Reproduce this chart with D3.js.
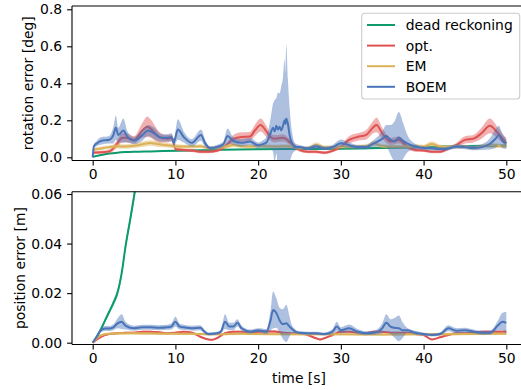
<!DOCTYPE html>
<html><head><meta charset="utf-8">
<script src="https://cdn.jsdelivr.net/npm/d3@7"></script>
<style>body{margin:0;background:#fff}svg{display:block}</style>
</head><body>
<svg id="chart" width="521" height="390"></svg>
<script>
// Method names and colours (legend order = drawing order)
const methods = ["dead reckoning", "opt.", "EM", "BOEM"];
const colors = ["#0d9a6c", "#e05251", "#dbb257", "#4a74b9"];

// Axis ticks
const xTicks = [0, 10, 20, 30, 40, 50];
const rotTicks = [0, 0.2, 0.4, 0.6, 0.8];
const posTicks = [0, 0.02, 0.04, 0.06];

// Rotation error [deg]: [time s, mean, spread]
const rotDead = [[0,0.003,0.001],[1,0.012,0.002],[2,0.02,0.002],[3,0.025,0.002],[4,0.028,0.002],[5,0.03,0.002],[7,0.032,0.002],[10,0.035,0.003],[15,0.04,0.003],[20,0.044,0.003],[25,0.045,0.004],[30,0.046,0.004],[35,0.05,0.005],[40,0.055,0.006],[45,0.06,0.007],[50,0.063,0.007]];
const rotOpt = [[0,0.025,0.008],[1,0.027,0.008],[2,0.032,0.01],[3,0.076,0.02],[3.5,0.104,0.025],[4,0.106,0.025],[5,0.094,0.02],[6,0.145,0.04],[6.6,0.165,0.055],[7,0.155,0.05],[8,0.11,0.03],[9,0.1,0.02],[9.6,0.105,0.02],[10,0.045,0.01],[11,0.04,0.008],[12,0.037,0.008],[13,0.03,0.008],[14,0.03,0.008],[15,0.035,0.008],[16,0.058,0.01],[17,0.1,0.02],[18,0.11,0.025],[19,0.112,0.025],[19.6,0.145,0.03],[20.3,0.175,0.035],[21,0.14,0.03],[21.5,0.11,0.02],[22,0.1,0.02],[23,0.105,0.02],[24,0.076,0.015],[25,0.04,0.01],[26,0.03,0.008],[27,0.03,0.008],[28,0.025,0.008],[29,0.035,0.008],[30,0.058,0.01],[31,0.094,0.02],[32,0.11,0.02],[33,0.12,0.025],[34,0.166,0.035],[34.3,0.175,0.04],[35,0.13,0.03],[36,0.085,0.02],[37,0.094,0.02],[38,0.058,0.012],[39,0.04,0.01],[40,0.037,0.008],[41,0.03,0.008],[42,0.03,0.008],[43,0.048,0.01],[44,0.067,0.012],[45,0.094,0.02],[46,0.1,0.02],[47,0.13,0.03],[48,0.17,0.04],[49,0.13,0.03],[50,0.076,0.02]];
const rotEm = [[0,0.04,0.008],[1,0.048,0.01],[2,0.055,0.01],[3,0.06,0.012],[4,0.058,0.012],[5,0.062,0.012],[6,0.07,0.015],[7,0.077,0.015],[8,0.07,0.015],[9,0.065,0.012],[10,0.06,0.012],[11,0.058,0.01],[12,0.058,0.01],[13,0.06,0.01],[14,0.05,0.01],[15,0.052,0.01],[16,0.056,0.01],[17,0.066,0.012],[18,0.06,0.01],[19,0.058,0.01],[20,0.062,0.012],[21,0.06,0.01],[22,0.058,0.01],[23,0.06,0.01],[24,0.058,0.01],[25,0.05,0.008],[26,0.05,0.008],[27,0.066,0.015],[28,0.054,0.01],[29,0.054,0.01],[30,0.058,0.01],[31,0.058,0.01],[32,0.058,0.01],[33,0.06,0.01],[34,0.075,0.015],[35,0.06,0.01],[36,0.058,0.01],[37,0.058,0.01],[38,0.058,0.01],[39,0.06,0.01],[40,0.058,0.01],[41,0.072,0.015],[42,0.058,0.01],[43,0.055,0.01],[44,0.058,0.01],[45,0.058,0.01],[46,0.05,0.01],[47,0.058,0.01],[48,0.065,0.012],[49,0.062,0.012],[50,0.058,0.01]];
const rotBoem = [[0,0,0],[0.15,0.06,0.01],[0.5,0.075,0.015],[1,0.088,0.02],[2,0.095,0.02],[2.5,0.12,0.045],[2.8,0.16,0.065],[3.1,0.12,0.04],[3.7,0.145,0.065],[4.2,0.11,0.03],[5,0.09,0.02],[6,0.12,0.03],[6.7,0.145,0.03],[7.5,0.128,0.03],[8.3,0.105,0.02],[9,0.105,0.02],[9.5,0.11,0.02],[9.8,0.08,0.02],[10.3,0.15,0.055],[11,0.11,0.03],[12,0.078,0.02],[13.1,0.12,0.03],[13.6,0.075,0.02],[14.2,0.05,0.01],[15,0.055,0.012],[15.8,0.07,0.015],[16.3,0.115,0.04],[17,0.088,0.02],[18,0.078,0.02],[19,0.085,0.02],[20,0.065,0.015],[20.5,0.07,0.02],[21,0.08,0.03],[21.5,0.13,0.08],[21.8,0.16,0.13],[22,0.14,0.17],[22.2,0.17,0.15],[22.4,0.15,0.2],[22.6,0.165,0.18],[22.8,0.145,0.24],[23,0.17,0.26],[23.2,0.2,0.33],[23.3,0.18,0.28],[23.4,0.21,0.4],[23.6,0.18,0.24],[23.8,0.12,0.15],[24.1,0.075,0.06],[24.5,0.055,0.02],[25,0.055,0.012],[26,0.048,0.01],[27,0.058,0.012],[28,0.048,0.01],[29,0.055,0.012],[30,0.076,0.02],[31,0.065,0.015],[32,0.055,0.012],[33,0.055,0.012],[34,0.075,0.02],[35,0.1,0.04],[35.5,0.115,0.06],[36,0.094,0.08],[36.5,0.085,0.11],[37,0.105,0.14],[37.5,0.09,0.1],[38,0.075,0.05],[39,0.058,0.015],[40,0.05,0.01],[41,0.048,0.01],[42,0.045,0.01],[43,0.048,0.01],[44,0.058,0.012],[45,0.055,0.012],[46,0.05,0.012],[47,0.055,0.015],[48,0.072,0.03],[48.7,0.1,0.05],[49.1,0.12,0.05],[49.5,0.09,0.04],[50,0.076,0.03]];

// Position error [m]: [time s, mean, spread]
const posDead = [[0,0,0],[0.5,0.0025,0.0004],[1,0.0055,0.0007],[1.5,0.009,0.0009],[2,0.0125,0.001],[2.5,0.016,0.0012],[3,0.0202,0.0013],[3.5,0.028,0.0015],[4,0.0395,0.0017],[4.5,0.049,0.0019],[5,0.059,0.002],[5.5,0.07,0.0022],[6,0.082,0.0025],[8,0.14,0.003],[10,0.2,0.004],[15,0.4,0.006],[20,0.7,0.01],[30,1.3,0.02],[40,2.0,0.03],[50,2.8,0.04]];
const posOpt = [[0,0,0],[1,0.0024,0.0003],[2,0.0035,0.0004],[3,0.0038,0.0004],[4,0.004,0.0004],[5,0.004,0.0004],[6,0.0044,0.0004],[7,0.0044,0.0004],[8,0.0042,0.0004],[9,0.0038,0.0004],[10,0.004,0.0004],[11,0.0044,0.0004],[12,0.004,0.0004],[13,0.0024,0.0004],[14,0.0013,0.0003],[14.5,0.0012,0.0003],[15,0.0018,0.0003],[16,0.0038,0.0004],[17,0.0044,0.0004],[18,0.0044,0.0004],[19,0.0038,0.0004],[20,0.0044,0.0005],[21,0.0045,0.0005],[22,0.0045,0.0005],[23,0.004,0.0004],[24,0.0038,0.0004],[25,0.0038,0.0004],[26,0.0031,0.0004],[27,0.0018,0.0003],[27.5,0.0013,0.0003],[28,0.0018,0.0003],[29,0.0031,0.0004],[30,0.0044,0.0004],[31,0.0044,0.0004],[32,0.004,0.0004],[33,0.0038,0.0004],[34,0.0044,0.0005],[35,0.0044,0.0004],[36,0.004,0.0004],[37,0.004,0.0004],[38,0.004,0.0004],[39,0.0035,0.0004],[40,0.0031,0.0004],[41,0.0013,0.0003],[42,0.0022,0.0003],[43,0.0031,0.0004],[44,0.0038,0.0004],[45,0.0038,0.0004],[46,0.004,0.0004],[47,0.0044,0.0004],[48,0.0044,0.0005],[49,0.0044,0.0005],[50,0.0044,0.0005]];
const posEm = [[0,0,0],[1,0.003,0.0004],[2,0.0036,0.0005],[3,0.0037,0.0005],[5,0.0038,0.0005],[7,0.0037,0.0005],[10,0.0036,0.0005],[13,0.0035,0.0005],[15,0.0034,0.0005],[18,0.0036,0.0005],[20,0.0035,0.0005],[25,0.0034,0.0005],[30,0.0034,0.0005],[35,0.0033,0.0005],[40,0.0034,0.0005],[45,0.0035,0.0005],[50,0.0036,0.0005]];
const posBoem = [[0,0,0],[0.5,0.0024,0.0005],[1,0.005,0.0008],[1.5,0.0057,0.001],[2,0.0057,0.001],[2.5,0.0062,0.0012],[3,0.0078,0.002],[3.5,0.0085,0.003],[4,0.0068,0.0015],[5,0.0058,0.001],[6,0.0062,0.001],[7,0.0062,0.001],[8,0.006,0.001],[9,0.0062,0.001],[9.5,0.0065,0.0012],[10,0.0085,0.002],[10.5,0.0065,0.0012],[11,0.0062,0.001],[12,0.0058,0.001],[13,0.006,0.001],[13.5,0.0045,0.0008],[14,0.0035,0.0006],[15,0.0038,0.0006],[15.5,0.0045,0.0008],[16,0.0085,0.003],[16.5,0.0065,0.0015],[17,0.0065,0.0015],[17.5,0.008,0.0015],[18,0.0058,0.001],[19,0.0045,0.0008],[20,0.005,0.0008],[21,0.0045,0.001],[21.5,0.009,0.004],[21.8,0.0132,0.0075],[22.2,0.012,0.006],[22.6,0.009,0.005],[23,0.0075,0.006],[23.4,0.0078,0.0075],[23.8,0.0065,0.004],[24,0.0058,0.002],[24.5,0.0045,0.0008],[25,0.004,0.0006],[26,0.0038,0.0006],[27,0.0038,0.0006],[28,0.0035,0.0006],[29,0.0045,0.001],[29.5,0.0065,0.002],[30,0.005,0.0012],[31,0.0058,0.0015],[32,0.0045,0.001],[33,0.0038,0.0008],[34,0.004,0.0008],[35,0.0058,0.002],[35.5,0.008,0.0035],[36,0.0065,0.003],[36.5,0.006,0.004],[37,0.0058,0.0052],[37.5,0.005,0.003],[38,0.005,0.001],[39,0.004,0.0008],[40,0.0035,0.0006],[41,0.0031,0.0006],[42,0.0035,0.0006],[43,0.0058,0.0012],[44,0.0048,0.001],[45,0.005,0.001],[46,0.0045,0.0008],[47,0.004,0.0008],[48,0.004,0.0008],[49,0.007,0.002],[49.5,0.0085,0.0035],[50,0.008,0.0045]];

const FONT = "DejaVu Sans, sans-serif";
const FS = 13.9;
const svg = d3.select("#chart");

const x = d3.scaleLinear().domain([-2.5, 52.5]).range([72, 527]);

function panel(id, top, bottom, yDomain, ticks, fmt, series, label, labelX) {
  const y = d3.scaleLinear().domain(yDomain).range([bottom, top]);
  const g = svg.append("g");
  svg.append("clipPath").attr("id", id)
    .append("rect").attr("x", 72).attr("y", top).attr("width", 455).attr("height", bottom - top);
  const plot = g.append("g").attr("clip-path", `url(#${id})`);
  const area = d3.area().curve(d3.curveMonotoneX)
    .x(d => x(d[0])).y0(d => y(d[1] - d[2])).y1(d => y(d[1] + d[2]));
  const line = d3.line().curve(d3.curveMonotoneX)
    .x(d => x(d[0])).y(d => y(d[1]));
  series.forEach((s, i) => {
    plot.append("path").attr("d", area(s)).attr("fill", colors[i]).attr("fill-opacity", 0.45);
    plot.append("path").attr("d", line(s)).attr("fill", "none")
      .attr("stroke", colors[i]).attr("stroke-width", 2).attr("stroke-linejoin", "round");
  });

  // axes
  const ax = g.append("g").attr("transform", `translate(0,${bottom})`)
    .call(d3.axisBottom(x).tickValues(xTicks).tickSize(4.9).tickPadding(4.2).tickFormat(d3.format("d")));
  const ay = g.append("g").attr("transform", `translate(72,0)`)
    .call(d3.axisLeft(y).tickValues(ticks).tickSize(4.9).tickPadding(4.9).tickFormat(fmt));
  [ax, ay].forEach(a => {
    a.select(".domain").remove();
    a.selectAll("line").attr("stroke", "#000").attr("stroke-width", 1.1);
    a.selectAll("text").attr("font-family", FONT).attr("font-size", FS).attr("fill", "#000");
  });
  // spines: left, bottom, top
  g.append("line").attr("x1", 72).attr("x2", 72).attr("y1", top).attr("y2", bottom)
    .attr("stroke", "#000").attr("stroke-width", 1.1);
  g.append("line").attr("x1", 72).attr("x2", 527).attr("y1", bottom).attr("y2", bottom)
    .attr("stroke", "#000").attr("stroke-width", 1.1);
  g.append("line").attr("x1", 72).attr("x2", 527).attr("y1", top).attr("y2", top)
    .attr("stroke", "#000").attr("stroke-width", 1.1);

  g.append("text").attr("transform", `translate(${labelX},${(top + bottom) / 2}) rotate(-90)`)
    .attr("text-anchor", "middle").attr("dominant-baseline", "central")
    .attr("font-family", FONT).attr("font-size", FS).text(label);
  return y;
}

panel("clipRot", 6, 160.5, [-0.0173, 0.8178], rotTicks, d3.format(".1f"),
  [rotDead, rotOpt, rotEm, rotBoem], "rotation error [deg]", 27.5);
panel("clipPos", 191.7, 344.5, [-0.00073, 0.06093], posTicks, d3.format(".2f"),
  [posDead, posOpt, posEm, posBoem], "position error [m]", 19.5);

svg.append("text").attr("x", 299).attr("y", 383).attr("text-anchor", "middle")
  .attr("font-family", FONT).attr("font-size", FS).text("time [s]");

// legend
const leg = svg.append("g");
leg.append("rect").attr("x", 361.7).attr("y", 13.3).attr("width", 158).attr("height", 85.7)
  .attr("rx", 3).attr("fill", "#fff").attr("fill-opacity", 0.8)
  .attr("stroke", "#cccccc").attr("stroke-width", 1.1);
methods.forEach((m, i) => {
  const cy = 25 + i * 20.6;
  leg.append("line").attr("x1", 367).attr("x2", 395).attr("y1", cy).attr("y2", cy)
    .attr("stroke", colors[i]).attr("stroke-width", 2);
  leg.append("text").attr("x", 405.7).attr("y", cy).attr("dy", "0.36em")
    .attr("font-family", FONT).attr("font-size", FS).attr("fill", "#000").text(m);
});
</script>
</body></html>
